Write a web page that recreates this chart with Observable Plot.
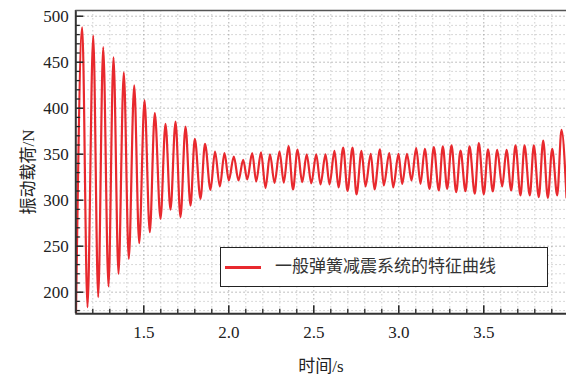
<!DOCTYPE html>
<html><head><meta charset="utf-8">
<script src="https://cdn.jsdelivr.net/npm/d3@7"></script>
<script src="https://cdn.jsdelivr.net/npm/@observablehq/plot@0.6"></script>
<style>
body{margin:0;background:#fff;}
#wrap{position:relative;width:566px;height:379px;overflow:hidden;color:#222;font-family:"Liberation Serif","DejaVu Serif","Noto Sans CJK SC",serif;}
#wrap svg{position:absolute;left:0;top:0;}
.ylab{position:absolute;left:26px;top:172px;transform:translate(-50%,-50%) rotate(-90deg);white-space:nowrap;font-size:17px;}
.xlab{position:absolute;left:321px;top:367px;transform:translate(-50%,-50%);white-space:nowrap;font-size:17px;line-height:20px;}
.legend{position:absolute;left:220px;top:247px;width:328px;height:40px;box-sizing:border-box;border:1.5px solid #222;background:#fff;}
.legend .sw{position:absolute;left:4px;top:18px;width:36px;height:2.5px;background:#e8292e;}
.legend .tx{position:absolute;left:54px;top:0;height:37px;line-height:37px;font-size:17px;color:#333;white-space:nowrap;}
</style></head><body><div id="wrap"></div>
<script>
const time = [1.101, 1.1377, 1.1688, 1.2024, 1.2318, 1.2612, 1.2924, 1.3218, 1.3512, 1.3824,
  1.4118, 1.4436, 1.4730, 1.5042, 1.5353, 1.5647, 1.5983, 1.6277, 1.6571, 1.6865,
  1.7159, 1.7453, 1.7747, 1.8000, 1.8336, 1.8600, 1.8924, 1.9189, 1.9471, 1.9747,
  2.0000, 2.0295, 2.0571, 2.0847, 2.1083, 2.1377, 2.1612, 2.1895, 2.2159, 2.2424,
  2.2689, 2.2983, 2.3236, 2.3512, 2.3777, 2.4042, 2.4318, 2.4583, 2.4853, 2.5142,
  2.5395, 2.5689, 2.5924, 2.6218, 2.6453, 2.6730, 2.6983, 2.7277, 2.7512, 2.7806,
  2.8042, 2.8353, 2.8571, 2.8895, 2.9118, 2.9442, 2.9671, 2.9983, 3.0200, 3.0483,
  3.0747, 3.1024, 3.1277, 3.1530, 3.1806, 3.2059, 3.2353, 3.2589, 3.2847, 3.3100,
  3.3377, 3.3630, 3.3924, 3.4159, 3.4471, 3.4706, 3.5000, 3.5247, 3.5530, 3.5789,
  3.6083, 3.6336, 3.6612, 3.6865, 3.7159, 3.7395, 3.7706, 3.7942, 3.8236, 3.8495,
  3.8765, 3.9024, 3.9318, 3.9571, 3.9865];
const load = [175, 488.0, 183.7, 479.0, 194.6, 466.3, 206.2, 455.4, 220.0, 439.1,
  236.3, 424.7, 253.3, 408.4, 265.2, 394.6, 279.8, 383.0, 289.6, 385.5,
  281.5, 380.1, 294.2, 366.7, 301.5, 361.3, 311.3, 352.9, 314.9, 351.1,
  321.4, 347.5, 321.4, 343.9, 322.5, 351.1, 320.3, 351.9, 313.3, 349.7,
  318.7, 352.9, 319.2, 358.7, 311.6, 355.1, 319.6, 349.7, 318.2, 349.7,
  317.1, 349.7, 317.1, 353.5, 313.8, 357.3, 310.2, 357.3, 306.2, 353.5,
  314.9, 350.4, 311.6, 355.4, 316.0, 351.3, 313.8, 350.4, 317.8, 350.4,
  321.4, 356.5, 317.8, 355.9, 312.4, 357.6, 310.6, 358.4, 312.4, 359.5,
  308.7, 354.0, 309.8, 358.4, 307.0, 362.0, 306.4, 355.3, 309.5, 354.8,
  314.9, 354.8, 310.6, 359.5, 305.1, 359.5, 305.1, 359.5, 303.3, 364.9,
  302.6, 355.9, 305.1, 376.5, 302.9];

const xMajorTicks = [1.5, 2.0, 2.5, 3.0, 3.5];
const yMajorTicks = [200, 250, 300, 350, 400, 450, 500];
const xMinorTicks = [1.2, 1.3, 1.4, 1.6, 1.7, 1.8, 1.9, 2.1, 2.2, 2.3, 2.4, 2.6, 2.7, 2.8, 2.9, 3.1, 3.2, 3.3, 3.4, 3.6, 3.7, 3.8, 3.9];
const yMinorTicks = [180, 190, 210, 220, 230, 240, 260, 270, 280, 290, 310, 320, 330, 340, 360, 370, 380, 390, 410, 420, 430, 440, 460, 470, 480, 490];
const xLabel = "时间/s";
const yLabel = "振动载荷/N";
const seriesName = "一般弹簧减震系统的特征曲线";

const serif = '"Liberation Serif","DejaVu Serif","Noto Sans CJK SC",serif';

const xDomain = [1.1, 3.9865];
const yDomain = [176.5, 506.2];
const data = time.map((t, i) => ({t, v: load[i]}));
const red = "#e8292e";
const axisColor = "#222";

const W = 566, H = 379, mT = 10, mB = 65.7, mL = 75.3, mR = 0;
const frameH = H - mT - mB, frameW = W - mL - mR;

const chart = Plot.plot({
  width: W, height: H,
  marginTop: mT, marginBottom: mB, marginLeft: mL, marginRight: mR,
  style: {fontFamily: serif, fontSize: "17px", background: "transparent", color: "#222", overflow: "visible"},
  x: {domain: xDomain},
  y: {domain: yDomain},
  marks: [
    Plot.gridX(xMinorTicks, {stroke: "#aaa", strokeOpacity: 0.6, strokeDasharray: "1.5,2.5", strokeWidth: 1}),
    Plot.gridY(yMinorTicks, {stroke: "#aaa", strokeOpacity: 0.6, strokeDasharray: "1.5,2.5", strokeWidth: 1}),
    Plot.gridX(xMajorTicks, {stroke: "#999", strokeOpacity: 0.8, strokeDasharray: "1.5,2.5", strokeWidth: 1}),
    Plot.gridY(yMajorTicks, {stroke: "#999", strokeOpacity: 0.8, strokeDasharray: "1.5,2.5", strokeWidth: 1}),
    Plot.line(data, {x: "t", y: "v", stroke: red, strokeWidth: 2.2, curve: "monotone-x", clip: true}),
    Plot.axisX(xMajorTicks, {tickSize: 0, tickPadding: 12, tickFormat: d3.format(".1f"), label: null, fontSize: 17, fontFamily: serif, fill: "#222"}),
    Plot.axisY(yMajorTicks, {tickSize: 0, tickPadding: 7, label: null, fontSize: 17, fontFamily: serif, fill: "#222"}),
    Plot.ruleX(xMajorTicks, {x: d => d, insetTop: frameH - 8, stroke: axisColor, strokeWidth: 1.5}),
    Plot.ruleX(xMinorTicks, {x: d => d, insetTop: frameH - 4.5, stroke: axisColor, strokeWidth: 1.3}),
    Plot.ruleY(yMajorTicks, {y: d => d, insetRight: frameW - 8, stroke: axisColor, strokeWidth: 1.5}),
    Plot.ruleY(yMinorTicks, {y: d => d, insetRight: frameW - 4.5, stroke: axisColor, strokeWidth: 1.3}),
    Plot.ruleX([xDomain[0]], {stroke: "#333", strokeWidth: 2}),
    Plot.ruleY([yDomain[0]], {stroke: "#333", strokeWidth: 2}),
    Plot.ruleY([yDomain[1]], {stroke: "#555", strokeWidth: 1.5})
  ]
});

const wrap = document.getElementById("wrap");
wrap.appendChild(chart);
const yl = document.createElement("div"); yl.className = "ylab"; yl.textContent = yLabel; wrap.appendChild(yl);
const xl = document.createElement("div"); xl.className = "xlab"; xl.textContent = xLabel; wrap.appendChild(xl);
const lg = document.createElement("div"); lg.className = "legend";
const sw = document.createElement("div"); sw.className = "sw";
const tx = document.createElement("div"); tx.className = "tx"; tx.textContent = seriesName;
lg.appendChild(sw); lg.appendChild(tx); wrap.appendChild(lg);
</script>
</body></html>
